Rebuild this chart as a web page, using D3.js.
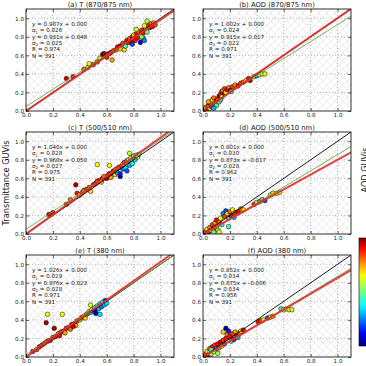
<!DOCTYPE html>
<html>
<head>
<meta charset="utf-8">
<script src="https://cdn.jsdelivr.net/npm/d3@7"></script>
<style>
  body { margin: 0; background: #fff; }
  svg { display: block; font-family: "DejaVu Sans", sans-serif; }
</style>
</head>
<body>
<svg id="chart" width="366" height="366"></svg>
<script>
// panel titles
let titles = ['(a) T (870/875 nm)', '(b) AOD (870/875 nm)', '(c) T (500/510 nm)',
              '(d) AOD (500/510 nm)', '(e) T (380 nm)', '(f) AOD (380 nm)'];

// fit 1 (through origin) and fit 2 (with offset)
let slope1 = [0.987, 1.002, 1.040, 0.801, 1.026, 0.852];
let icpt1 = [0.000, 0.000, 0.000, 0.000, 0.000, 0.000];
let sigma1 = ['0.026', '0.024', '0.028', '0.030', '0.029', '0.034'];
let slope2 = [0.931, 0.915, 0.968, 0.873, 0.976, 0.875];
let icpt2 = [0.048, 0.017, 0.050, -0.017, 0.023, -0.006];
let sigma2 = ['0.025', '0.022', '0.027', '0.028', '0.028', '0.034'];
let rValues = ['0.974', '0.971', '0.975', '0.962', '0.971', '0.956'];
let nValues = [391, 391, 391, 391, 391, 391];

let tickValues = [0.0, 0.2, 0.4, 0.6, 0.8, 1.0];

// scatter points: [x, y, colour value 0..1]
let ptsA = [[0.30,0.35,0.95],[0.35,0.37,0.9],[0.43,0.45,0.8],[0.46,0.47,0.65],[0.47,0.51,0.65],[0.50,0.50,0.85],[0.53,0.53,0.8],[0.55,0.57,0.6],[0.57,0.61,0.98],[0.58,0.62,0.97],[0.60,0.61,0.95],[0.60,0.58,0.9],[0.62,0.62,0.85],[0.63,0.63,0.9],[0.64,0.55,0.75],[0.65,0.65,0.85],[0.67,0.66,0.8],[0.68,0.69,0.9],[0.70,0.70,0.95],[0.70,0.67,0.7],[0.72,0.73,0.85],[0.73,0.66,0.7],[0.74,0.70,0.45],[0.75,0.76,0.9],[0.76,0.74,0.88],[0.77,0.78,0.82],[0.78,0.75,0.95],[0.79,0.80,0.9],[0.80,0.78,0.85],[0.80,0.82,0.7],[0.81,0.76,0.9],[0.82,0.83,0.88],[0.83,0.79,0.92],[0.84,0.85,0.8],[0.85,0.82,0.6],[0.85,0.74,0.1],[0.86,0.87,0.85],[0.87,0.84,0.9],[0.87,0.79,0.3],[0.88,0.88,0.88],[0.88,0.76,0.25],[0.89,0.90,0.7],[0.90,0.97,0.6],[0.90,0.85,0.5],[0.91,0.92,0.85],[0.92,0.90,0.95],[0.93,0.94,0.8],[0.94,0.91,0.9],[0.95,0.95,0.75],[0.96,0.93,0.85],[0.88,0.92,0.65],[0.82,0.88,0.6],[0.79,0.72,0.2],[0.86,0.80,0.55]];
let ptsB = [[0.01,0.01,0.9],[0.02,0.04,0.8],[0.03,0.02,0.95],[0.04,0.06,0.85],[0.05,0.03,0.6],[0.05,0.08,0.9],[0.06,0.10,0.7],[0.06,0.05,0.95],[0.07,0.12,0.65],[0.08,0.07,0.9],[0.08,0.14,0.8],[0.09,0.09,0.5],[0.10,0.11,0.9],[0.10,0.06,0.4],[0.11,0.13,0.85],[0.12,0.10,0.7],[0.12,0.16,0.95],[0.13,0.18,0.88],[0.14,0.15,0.6],[0.14,0.21,0.9],[0.15,0.22,0.7],[0.16,0.19,0.95],[0.16,0.24,0.85],[0.17,0.20,0.65],[0.18,0.23,0.9],[0.19,0.25,0.8],[0.20,0.22,0.95],[0.21,0.21,0.4],[0.22,0.26,0.85],[0.24,0.28,0.75],[0.26,0.27,0.9],[0.28,0.30,0.85],[0.30,0.31,0.8],[0.32,0.33,0.7],[0.34,0.35,0.9],[0.35,0.33,0.95],[0.38,0.37,0.6],[0.40,0.38,0.3],[0.42,0.39,0.55],[0.44,0.40,0.65],[0.46,0.40,0.6],[0.08,0.03,0.3],[0.13,0.12,0.35],[0.04,0.10,0.75]];
let ptsC = [[0.17,0.21,0.95],[0.20,0.23,0.9],[0.30,0.32,0.85],[0.33,0.37,0.8],[0.37,0.53,0.97],[0.38,0.44,0.9],[0.40,0.42,0.65],[0.42,0.45,0.85],[0.43,0.47,0.8],[0.45,0.48,0.9],[0.47,0.50,0.85],[0.48,0.46,0.7],[0.50,0.53,0.9],[0.52,0.55,0.95],[0.53,0.75,0.65],[0.53,0.57,0.85],[0.55,0.58,0.9],[0.56,0.56,0.7],[0.57,0.60,0.9],[0.58,0.62,0.8],[0.60,0.60,0.95],[0.61,0.63,0.85],[0.62,0.74,0.65],[0.62,0.65,0.9],[0.63,0.61,0.75],[0.64,0.66,0.85],[0.65,0.68,0.9],[0.66,0.64,0.7],[0.67,0.70,0.8],[0.68,0.66,0.3],[0.69,0.72,0.85],[0.70,0.62,0.05],[0.70,0.65,0.15],[0.71,0.73,0.9],[0.72,0.70,0.25],[0.72,0.75,0.7],[0.73,0.77,0.85],[0.74,0.71,0.35],[0.75,0.79,0.8],[0.76,0.80,0.5],[0.77,0.87,0.6],[0.77,0.74,0.3],[0.78,0.82,0.6],[0.79,0.76,0.4],[0.80,0.84,0.5],[0.81,0.80,0.35],[0.82,0.85,0.45],[0.83,0.83,0.6],[0.84,0.86,0.5],[0.75,0.68,0.2]];
let ptsD = [[0.01,0.01,0.9],[0.02,0.03,0.85],[0.03,0.05,0.6],[0.04,0.02,0.95],[0.05,0.07,0.8],[0.06,0.04,0.7],[0.07,0.10,0.85],[0.08,0.06,0.9],[0.09,0.12,0.75],[0.10,0.08,0.6],[0.10,0.15,0.9],[0.11,0.04,0.55],[0.12,0.13,0.8],[0.13,0.17,0.65],[0.14,0.10,0.4],[0.15,0.22,0.25],[0.16,0.19,0.85],[0.17,0.25,0.2],[0.18,0.22,0.7],[0.19,0.17,0.35],[0.20,0.24,0.8],[0.21,0.20,0.9],[0.22,0.26,0.65],[0.23,0.18,0.3],[0.24,0.23,0.85],[0.26,0.24,0.9],[0.28,0.27,0.8],[0.30,0.26,0.7],[0.38,0.32,0.85],[0.40,0.34,0.65],[0.42,0.35,0.3],[0.44,0.37,0.75],[0.46,0.36,0.2],[0.50,0.42,0.55],[0.52,0.44,0.7],[0.55,0.44,0.6],[0.57,0.45,0.65],[0.19,0.08,0.45],[0.08,0.02,0.5],[0.12,0.02,0.65]];
let ptsE = [[0.05,0.06,0.9],[0.08,0.08,0.85],[0.10,0.11,0.95],[0.12,0.13,0.9],[0.14,0.15,0.85],[0.15,0.37,0.97],[0.16,0.46,0.65],[0.16,0.17,0.9],[0.18,0.18,0.95],[0.20,0.21,0.85],[0.21,0.31,0.97],[0.22,0.22,0.9],[0.24,0.25,0.8],[0.25,0.23,0.9],[0.26,0.27,0.85],[0.27,0.46,0.65],[0.28,0.28,0.95],[0.29,0.26,0.75],[0.30,0.31,0.9],[0.32,0.32,0.85],[0.33,0.30,0.8],[0.34,0.35,0.9],[0.36,0.36,0.85],[0.37,0.34,0.75],[0.38,0.39,0.8],[0.40,0.40,0.7],[0.41,0.42,0.65],[0.42,0.43,0.75],[0.43,0.44,0.55],[0.44,0.42,0.7],[0.45,0.46,0.6],[0.46,0.47,0.5],[0.47,0.49,0.6],[0.48,0.56,0.65],[0.48,0.48,0.4],[0.49,0.51,0.55],[0.50,0.49,0.3],[0.51,0.53,0.45],[0.51,0.50,0.1],[0.52,0.47,0.05],[0.53,0.55,0.4],[0.54,0.52,0.3],[0.55,0.46,0.35],[0.55,0.57,0.35],[0.56,0.54,0.25],[0.57,0.59,0.4],[0.58,0.56,0.3],[0.59,0.61,0.15],[0.60,0.58,0.35],[0.35,0.33,0.95]];
let ptsF = [[0.01,0.01,0.9],[0.02,0.03,0.85],[0.03,0.06,0.7],[0.04,0.02,0.95],[0.05,0.09,0.8],[0.05,0.05,0.6],[0.06,0.03,0.5],[0.07,0.11,0.9],[0.08,0.06,0.65],[0.09,0.13,0.85],[0.10,0.09,0.3],[0.11,0.14,0.9],[0.12,0.10,0.75],[0.13,0.16,0.95],[0.14,0.12,0.6],[0.15,0.18,0.85],[0.15,0.27,0.7],[0.16,0.14,0.25],[0.17,0.31,0.05],[0.17,0.20,0.9],[0.18,0.24,0.8],[0.19,0.28,0.15],[0.20,0.22,0.9],[0.21,0.17,0.35],[0.22,0.25,0.85],[0.23,0.19,0.95],[0.24,0.27,0.75],[0.25,0.23,0.9],[0.26,0.21,0.3],[0.27,0.26,0.8],[0.28,0.28,0.65],[0.30,0.29,0.9],[0.41,0.38,0.9],[0.43,0.39,0.85],[0.45,0.40,0.6],[0.48,0.42,0.2],[0.50,0.43,0.7],[0.52,0.44,0.75],[0.58,0.52,0.4],[0.60,0.51,0.65],[0.62,0.52,0.6],[0.64,0.51,0.62],[0.66,0.51,0.6],[0.06,0.08,0.4],[0.11,0.04,0.55]];
let allPts = [ptsA, ptsB, ptsC, ptsD, ptsE, ptsF];

let svg = d3.select('#chart');

let colLeft = [26, 203];
let rowTop = [9, 132, 255];
let pw = 148, ph = 102;

// jet colormap
let jet = d3.scaleLinear()
  .domain([0, 0.11, 0.125, 0.34, 0.375, 0.64, 0.66, 0.89, 0.91, 1])
  .range(['#00007f', '#0000f0', '#0000ff', '#00e0ff', '#00ffff', '#f0ff00', '#ffff00', '#ff1000', '#ff0000', '#7f0000']);

let defs = svg.append('defs');
let pat = defs.append('pattern')
  .attr('id', 'hatch')
  .attr('patternUnits', 'userSpaceOnUse')
  .attr('width', 8).attr('height', 8);
pat.append('rect').attr('width', 8).attr('height', 8).attr('fill', '#fff');
pat.append('path').attr('d', 'M0,0L8,8M8,0L0,8').attr('stroke', '#e4e4e4').attr('stroke-width', 0.7);

let grad = defs.append('linearGradient').attr('id', 'jetgrad')
  .attr('x1', 0).attr('y1', 1).attr('x2', 0).attr('y2', 0);
d3.range(0, 1.0001, 0.05).forEach(t => {
  grad.append('stop').attr('offset', t).attr('stop-color', jet(t));
});

allPts.forEach((pts, i) => {
  let col = i % 2, row = Math.floor(i / 2);
  let x0 = colLeft[col], y0 = rowTop[row];

  let x = d3.scaleLinear().domain([0, 1.1]).range([0, pw]);
  let y = d3.scaleLinear().domain([0, 1.1]).range([ph, 0]);

  let g = svg.append('g').attr('transform', `translate(${x0},${y0})`);

  g.append('rect').attr('width', pw).attr('height', ph).attr('fill', 'url(#hatch)');

  // dotted grid
  g.selectAll('line.gx').data(tickValues.slice(1)).enter().append('line')
    .attr('x1', d => x(d)).attr('x2', d => x(d)).attr('y1', 0).attr('y2', ph)
    .attr('stroke', '#888').attr('stroke-width', 0.6).attr('stroke-dasharray', '1,2');
  g.selectAll('line.gy').data(tickValues.slice(1)).enter().append('line')
    .attr('y1', d => y(d)).attr('y2', d => y(d)).attr('x1', 0).attr('x2', pw)
    .attr('stroke', '#888').attr('stroke-width', 0.6).attr('stroke-dasharray', '1,2');

  let clipId = 'clip' + i;
  defs.append('clipPath').attr('id', clipId)
    .append('rect').attr('width', pw).attr('height', ph);
  let inner = g.append('g').attr('clip-path', `url(#${clipId})`);

  inner.selectAll('circle').data(pts).enter().append('circle')
    .attr('cx', d => x(d[0])).attr('cy', d => y(d[1]))
    .attr('r', 2.3)
    .attr('fill', d => jet(d[2]))
    .attr('stroke', '#000').attr('stroke-width', 0.5);

  let xs = [0, 1.1];
  let line = d3.line().x(d => x(d[0])).y(d => y(d[1]));
  inner.append('path').attr('d', line(xs.map(v => [v, v])))
    .attr('stroke', '#000').attr('stroke-width', 0.9).attr('fill', 'none');
  inner.append('path').attr('d', line(xs.map(v => [v, slope2[i] * v + icpt2[i]])))
    .attr('stroke', '#5aaa4a').attr('stroke-width', 0.9).attr('fill', 'none');
  inner.append('path').attr('d', line(xs.map(v => [v, slope1[i] * v + icpt1[i]])))
    .attr('stroke', '#e0302c').attr('stroke-width', 2).attr('fill', 'none').attr('opacity', 0.9);

  // axes with inward ticks on all sides
  let axB = g.append('g').attr('transform', `translate(0,${ph})`)
    .call(d3.axisBottom(x).tickValues(tickValues).tickFormat(d3.format('.1f')).tickSizeInner(-3).tickSizeOuter(0).tickPadding(2));
  let axL = g.append('g')
    .call(d3.axisLeft(y).tickValues(tickValues).tickFormat(d3.format('.1f')).tickSizeInner(-3).tickSizeOuter(0).tickPadding(2));
  let axT = g.append('g')
    .call(d3.axisTop(x).tickValues(tickValues).tickFormat('').tickSizeInner(-3).tickSizeOuter(0));
  let axR = g.append('g').attr('transform', `translate(${pw},0)`)
    .call(d3.axisRight(y).tickValues(tickValues).tickFormat('').tickSizeInner(-3).tickSizeOuter(0));
  [axB, axL, axT, axR].forEach(a => {
    a.select('.domain').remove();
    a.selectAll('text').attr('font-size', 5.6).attr('fill', '#222').attr('font-family', 'DejaVu Sans');
    a.selectAll('line').attr('stroke', '#000').attr('stroke-width', 0.6);
  });

  g.append('rect').attr('width', pw).attr('height', ph)
    .attr('fill', 'none').attr('stroke', '#000').attr('stroke-width', 0.8);

  g.append('text').attr('x', pw / 2).attr('y', -2.5)
    .attr('text-anchor', 'middle').attr('font-size', 6.8).attr('fill', '#111')
    .text(titles[i]);

  let lines = [
    ['y', ` = ${slope1[i].toFixed(3)}x + ${icpt1[i].toFixed(3)}`],
    ['σ1', ` = ${sigma1[i]}`],
    ['y', ` = ${slope2[i].toFixed(3)}x ${icpt2[i] < 0 ? '+ -' : '+ '}${Math.abs(icpt2[i]).toFixed(3)}`],
    ['σ2', ` = ${sigma2[i]}`],
    ['R', ` = ${rValues[i]}`],
    ['N', ` = ${nValues[i]}`]
  ];
  let ann = g.append('text').attr('font-size', 5.6).attr('fill', '#222');
  lines.forEach((l, k) => {
    let t = ann.append('tspan').attr('x', 6).attr('y', 17 + k * 6.3);
    if (l[0].startsWith('σ')) {
      t.text('σ');
      t.append('tspan').attr('font-size', 3.8).attr('dy', 1.2).text(l[0].slice(1));
      ann.append('tspan').attr('dy', -1.2).text(l[1]);
    } else {
      t.text(l[0] + ' ');
      ann.append('tspan').text(l[1]);
    }
  });
});

// y-axis label
svg.append('text')
  .attr('transform', 'translate(9,183) rotate(-90)')
  .attr('text-anchor', 'middle').attr('font-size', 8.2).attr('fill', '#111')
  .text('Transmittance GUVis');

// right label, cut by the page edge as in the original
svg.append('text')
  .attr('transform', 'translate(368,170) rotate(-90)')
  .attr('text-anchor', 'middle').attr('font-size', 8.2).attr('fill', '#111')
  .text('AOD GUVis');

// colour bar
let cbScale = d3.scaleLinear().domain([0, 1]).range([346, 238]);
svg.append('rect').attr('x', 359).attr('y', cbScale(1))
  .attr('width', 9).attr('height', cbScale(0) - cbScale(1))
  .attr('fill', 'url(#jetgrad)').attr('stroke', '#000').attr('stroke-width', 0.6);
svg.append('g').attr('transform', 'translate(368,0)')
  .call(d3.axisRight(cbScale).ticks(10).tickSize(-2).tickFormat(''))
  .call(a => a.select('.domain').remove())
  .selectAll('line').attr('stroke', '#000').attr('stroke-width', 0.5);
</script>
</body>
</html>
